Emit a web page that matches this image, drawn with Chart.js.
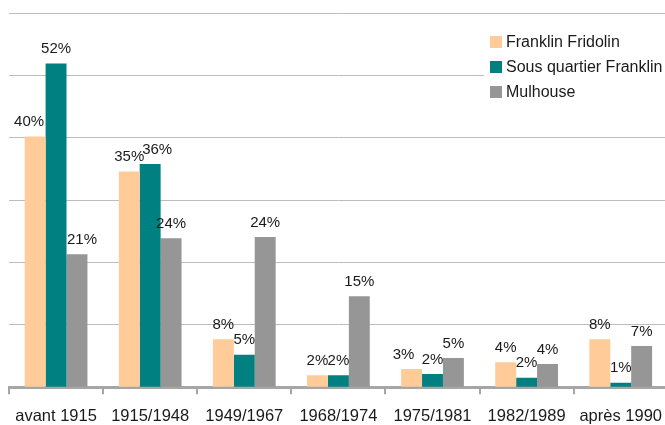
<!DOCTYPE html>
<html lang="fr">
<head>
<meta charset="utf-8">
<title>Période de construction</title>
<script src="https://cdn.jsdelivr.net/npm/chart.js@4/dist/chart.umd.min.js"></script>
<style>
  html, body {
    margin: 0;
    padding: 0;
    background: #ffffff;
    overflow: hidden;
  }
  #wrap {
    width: 665px;
    height: 425px;
    overflow: hidden;
  }
</style>
</head>
<body>
<div id="wrap">
  <canvas id="periodChart" width="674" height="438"></canvas>
</div>
<script>
// Données (en %)
const categories = [
  "avant 1915",
  "1915/1948",
  "1949/1967",
  "1968/1974",
  "1975/1981",
  "1982/1989",
  "après 1990",
];
const seriesNames = ["Franklin Fridolin", "Sous quartier Franklin", "Mulhouse"];
const franklinFridolin = [40.2, 34.6, 7.7, 1.9, 2.9, 4.0, 7.7];
const sousQuartierFranklin = [51.9, 35.8, 5.2, 1.9, 2.1, 1.5, 0.7];
const mulhouse = [21.3, 23.9, 24.1, 14.6, 4.7, 3.7, 6.6];
const seriesColors = ["#FFCC99", "#008080", "#969696"];

const FONT = "'Liberation Sans', Arial, sans-serif";

// décalages horizontaux des étiquettes qui se chevauchent (dataset-index -> px)
const labelNudge = { "0-0": -6, "1-1": 7, "2-0": 5, "0-4": -8 };

/**
 * Étiquettes de valeur au-dessus des barres
 */
const valueLabels = {
  id: "valueLabels",
  afterDatasetsDraw(chart) {
    const ctx = chart.ctx;
    ctx.save();
    ctx.font = "15px " + FONT;
    ctx.fillStyle = "#1a1a1a";
    ctx.textAlign = "center";
    ctx.textBaseline = "bottom";
    chart.data.datasets.forEach((ds, i) => {
      const meta = chart.getDatasetMeta(i);
      meta.data.forEach((bar, j) => {
        const txt = Math.round(ds.data[j]) + "%";
        const dx = labelNudge[i + "-" + j] || 0;
        ctx.fillText(txt, bar.x + dx, bar.y - 7);
      });
    });
    ctx.restore();
  },
};

/**
 * Légende dans la zone de tracé, en haut à droite
 */
const boxLegend = {
  id: "boxLegend",
  afterDraw(chart) {
    const ctx = chart.ctx;
    const left = 484;
    const top = 27;
    ctx.save();
    ctx.fillStyle = "#ffffff";
    ctx.fillRect(left, top, 181, 78);
    ctx.font = "16px " + FONT;
    ctx.textBaseline = "middle";
    ctx.textAlign = "left";
    chart.data.datasets.forEach((ds, i) => {
      const y = 42 + i * 25;
      ctx.fillStyle = ds.backgroundColor;
      ctx.fillRect(490, y - 6, 12, 12);
      ctx.fillStyle = "#1a1a1a";
      ctx.fillText(ds.label, 506, y + 1);
    });
    ctx.restore();
  },
};

const ctx = document.getElementById("periodChart").getContext("2d");
new Chart(ctx, {
  type: "bar",
  data: {
    labels: categories,
    datasets: [
      {
        label: seriesNames[0],
        data: franklinFridolin,
        backgroundColor: seriesColors[0],
      },
      {
        label: seriesNames[1],
        data: sousQuartierFranklin,
        backgroundColor: seriesColors[1],
      },
      {
        label: seriesNames[2],
        data: mulhouse,
        backgroundColor: seriesColors[2],
      },
    ],
  },
  options: {
    responsive: false,
    animation: false,
    devicePixelRatio: 1,
    layout: {
      padding: { left: 9, top: 13, right: 0, bottom: 0 },
    },
    datasets: {
      bar: {
        categoryPercentage: 0.667,
        barPercentage: 1.0,
        borderWidth: 0,
      },
    },
    scales: {
      x: {
        grid: {
          display: true,
          drawOnChartArea: false,
          drawTicks: true,
          tickLength: 7,
          color: "#a6a6a6",
          lineWidth: 2,
          offset: true,
        },
        border: {
          display: true,
          color: "#a6a6a6",
          width: 3,
        },
        ticks: {
          color: "#1a1a1a",
          font: { family: FONT, size: 16.5 },
          padding: 12,
          maxRotation: 0,
          autoSkip: false,
        },
      },
      y: {
        min: 0,
        max: 60,
        ticks: {
          display: false,
          stepSize: 10,
        },
        grid: {
          color: "#bdbdbd",
          lineWidth: 1,
          drawTicks: false,
        },
        border: {
          display: false,
        },
      },
    },
    plugins: {
      legend: { display: false },
      tooltip: { enabled: false },
    },
  },
  plugins: [valueLabels, boxLegend],
});
</script>
</body>
</html>
